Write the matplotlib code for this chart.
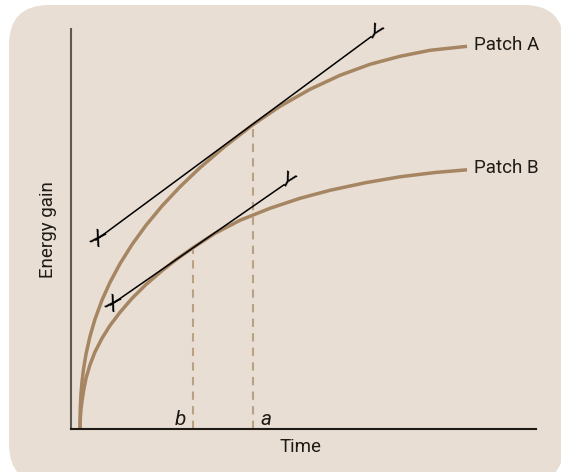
import matplotlib
matplotlib.use("Agg")
import matplotlib.pyplot as plt
from matplotlib.patches import FancyBboxPatch
from matplotlib.transforms import IdentityTransform

# time / energy gain values (arbitrary units)
time_a = [0, 0.3, 1, 2, 3.5, 6, 10, 15, 22, 30, 40, 52, 66, 82, 100, 120, 145,
          172.7, 200, 230, 260, 290, 320, 350, 387]
gain_a = [0, 21.6, 35.7, 47.6, 60.1, 75.2, 93.0, 110.1, 129.2, 146.9, 165.6,
          184.7, 204.0, 223.3, 242.5, 261.6, 283.0, 304.4, 323, 340, 354, 365,
          373, 379, 383]

time_b = [0, 0.3, 1, 2, 3.5, 6, 10, 15, 22, 30, 40, 52, 66, 82, 97, 112.7, 135,
          160, 190, 220, 250, 285, 320, 355, 387]
gain_b = [0, 11, 20, 28, 38, 51, 64.5, 77.4, 91.0, 103.8, 117, 130.9, 144.8,
          158.6, 170.3, 181.4, 196, 209, 221, 231, 239, 246.5, 252.5, 256.8, 259.5]

# tangent lines (X end, Y end)
tan_a_t = [16, 291]
tan_a_g = [189.3, 392.5]
tan_b_t = [30.7, 204]
tan_b_g = [124.3, 244.5]

# optimal leaving times
leave_t = [172.7, 112.7]
leave_g = [303.5, 181.2]
leave_lbl = ['a', 'b']

bg = '#e8ded4'
brown = '#a58562'
dash_col = '#bba184'
ink = '#1e1a16'

fig = plt.figure(figsize=(5.61, 4.72), dpi=100)
fig.patch.set_facecolor('white')
box = FancyBboxPatch((9, -12), 555, 479, boxstyle='round,pad=0,rounding_size=40',
                     transform=IdentityTransform(), facecolor=bg, edgecolor='none',
                     zorder=0)
fig.add_artist(box)

plt.rcParams['font.family'] = ['Roboto', 'DejaVu Sans']

ax = fig.add_axes([71 / 561, 42.7 / 472, 464.7 / 561, 400.3 / 472])
ax.set_facecolor('none')
ax.set_xlim(-9, 455.7)
ax.set_ylim(0, 400.3)
for s in ['top', 'right']:
    ax.spines[s].set_visible(False)
ax.spines['left'].set_color('#5f5851')
ax.spines['left'].set_linewidth(1.5)
ax.spines['bottom'].set_color(ink)
ax.spines['bottom'].set_linewidth(1.5)
ax.set_xticks([])
ax.set_yticks([])

ax.plot(time_a, gain_a, color=brown, lw=2.5, solid_joinstyle='round',
        solid_capstyle='butt', clip_on=False)
ax.plot(time_b, gain_b, color=brown, lw=2.5, solid_joinstyle='round',
        solid_capstyle='butt', clip_on=False)

for t, g, lbl in zip(leave_t, leave_g, leave_lbl):
    ax.vlines(t, 0, g, colors=dash_col, lw=1.5, linestyles=(0, (4, 3)))
    ax.text(t - 12 if lbl == 'b' else t + 13, 4, lbl, style='italic', fontsize=15,
            ha='center', va='baseline', color=ink)

for tt, gg in [(tan_a_t, tan_a_g), (tan_b_t, tan_b_g)]:
    ax.plot(tt, gg, color='black', lw=1.1, clip_on=False)
    ax.text(tt[0], gg[0], 'X', rotation=-30, fontsize=15, ha='center',
            va='center', rotation_mode='anchor', color='black')
    ax.text(tt[1] + 3, gg[1] + 3, 'Y', rotation=-30, fontsize=15, ha='center',
            va='center', rotation_mode='anchor', color='black')

ax.text(394, 384.5, 'Patch A', fontsize=13.5, ha='left', va='center', color=ink)
ax.text(394, 261.5, 'Patch B', fontsize=13.5, ha='left', va='center', color=ink)

fig.text(48 / 561, 1 - 229.5 / 472, 'Energy gain', rotation=90, fontsize=13.5,
         ha='center', va='center', color=ink)
fig.text(300.5 / 561, 1 - 447 / 472, 'Time', fontsize=13.5, ha='center',
         va='center', color=ink)

fig.savefig('out.png', dpi=100, facecolor='white')
